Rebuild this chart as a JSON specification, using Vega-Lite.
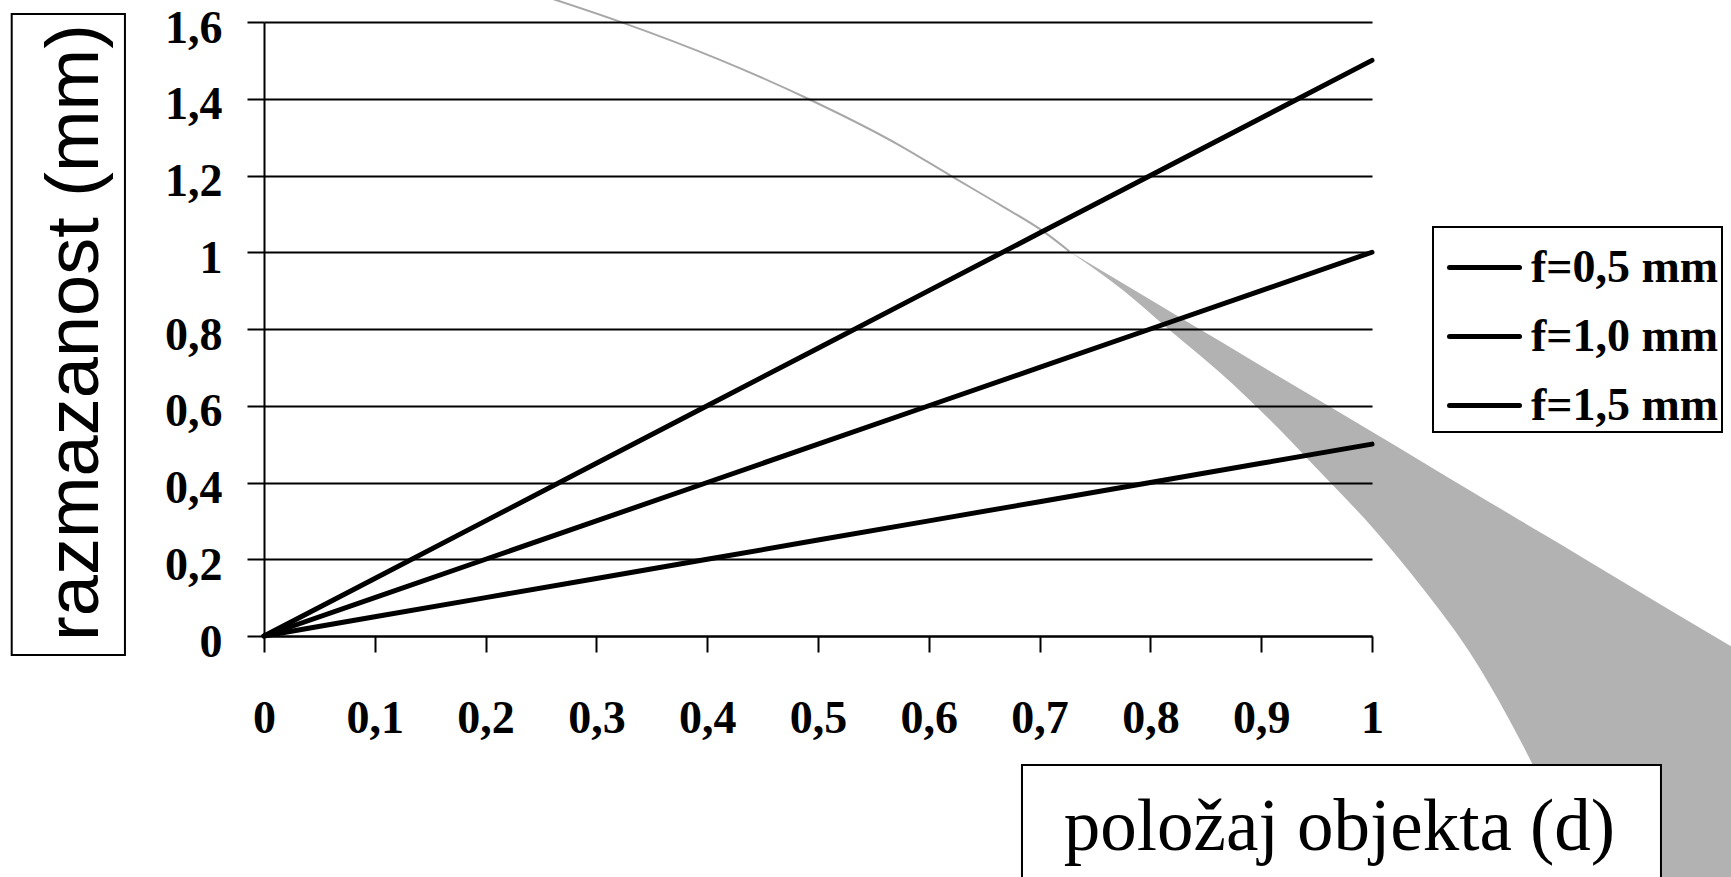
{
  "$schema": "https://vega.github.io/schema/vega-lite/v6.json",
  "autosize": {"type": "none"},
  "width": 1108,
  "height": 614,
  "padding": {"left": 264, "top": 22, "right": 359, "bottom": 241},
  "background": "white",
  "datasets": {
    "linije": [
      {"d": 0, "r": 0, "serija": "f=0,5 mm"}, {"d": 0.1, "r": 0.05, "serija": "f=0,5 mm"}, {"d": 0.2, "r": 0.1, "serija": "f=0,5 mm"}, {"d": 0.3, "r": 0.15, "serija": "f=0,5 mm"}, {"d": 0.4, "r": 0.2, "serija": "f=0,5 mm"}, {"d": 0.5, "r": 0.25, "serija": "f=0,5 mm"}, {"d": 0.6, "r": 0.3, "serija": "f=0,5 mm"}, {"d": 0.7, "r": 0.35, "serija": "f=0,5 mm"}, {"d": 0.8, "r": 0.4, "serija": "f=0,5 mm"}, {"d": 0.9, "r": 0.45, "serija": "f=0,5 mm"}, {"d": 1, "r": 0.5, "serija": "f=0,5 mm"},
      {"d": 0, "r": 0, "serija": "f=1,0 mm"}, {"d": 0.1, "r": 0.1, "serija": "f=1,0 mm"}, {"d": 0.2, "r": 0.2, "serija": "f=1,0 mm"}, {"d": 0.3, "r": 0.3, "serija": "f=1,0 mm"}, {"d": 0.4, "r": 0.4, "serija": "f=1,0 mm"}, {"d": 0.5, "r": 0.5, "serija": "f=1,0 mm"}, {"d": 0.6, "r": 0.6, "serija": "f=1,0 mm"}, {"d": 0.7, "r": 0.7, "serija": "f=1,0 mm"}, {"d": 0.8, "r": 0.8, "serija": "f=1,0 mm"}, {"d": 0.9, "r": 0.9, "serija": "f=1,0 mm"}, {"d": 1, "r": 1.0, "serija": "f=1,0 mm"},
      {"d": 0, "r": 0, "serija": "f=1,5 mm"}, {"d": 0.1, "r": 0.15, "serija": "f=1,5 mm"}, {"d": 0.2, "r": 0.3, "serija": "f=1,5 mm"}, {"d": 0.3, "r": 0.45, "serija": "f=1,5 mm"}, {"d": 0.4, "r": 0.6, "serija": "f=1,5 mm"}, {"d": 0.5, "r": 0.75, "serija": "f=1,5 mm"}, {"d": 0.6, "r": 0.9, "serija": "f=1,5 mm"}, {"d": 0.7, "r": 1.05, "serija": "f=1,5 mm"}, {"d": 0.8, "r": 1.2, "serija": "f=1,5 mm"}, {"d": 0.9, "r": 1.35, "serija": "f=1,5 mm"}, {"d": 1, "r": 1.5, "serija": "f=1,5 mm"}
    ],
    "rub": [
      {"d": 0.249, "r": 1.671}, {"d": 0.321, "r": 1.601}, {"d": 0.411, "r": 1.502}, {"d": 0.491, "r": 1.400},
      {"d": 0.574, "r": 1.278}, {"d": 0.620, "r": 1.199}, {"d": 0.664, "r": 1.124}, {"d": 0.705, "r": 1.051},
      {"d": 0.727, "r": 1.002}
    ],
    "klin": [
      {"d": 0.727, "r": 1.002, "r2": 1.002},
      {"d": 0.777, "r": 0.916, "r2": 0.897},
      {"d": 0.817, "r": 0.847, "r2": 0.798},
      {"d": 0.863, "r": 0.768, "r2": 0.686},
      {"d": 0.908, "r": 0.690, "r2": 0.563},
      {"d": 0.953, "r": 0.613, "r2": 0.428},
      {"d": 1.000, "r": 0.532, "r2": 0.284},
      {"d": 1.047, "r": 0.451, "r2": 0.120},
      {"d": 1.088, "r": 0.380, "r2": -0.042},
      {"d": 1.124, "r": 0.318, "r2": -0.219},
      {"d": 1.156, "r": 0.263, "r2": -0.402},
      {"d": 1.188, "r": 0.208, "r2": -0.628},
      {"d": 1.215, "r": 0.161, "r2": -0.845},
      {"d": 1.386, "r": -0.133, "r2": -1.0}
    ]
  },
  "config": {
    "view": {"stroke": null},
    "axis": {
      "domainColor": "black", "domainWidth": 2,
      "tickColor": "black", "tickWidth": 2,
      "gridColor": "black", "gridWidth": 2, "gridOpacity": 1,
      "labelFont": "Liberation Serif", "labelFontWeight": "bold", "labelFontSize": 46, "labelColor": "black",
      "titleColor": "black",
      "labelFlush": false, "labelOverlap": false, "labelBound": false
    }
  },
  "layer": [
    {
      "data": {"name": "klin"},
      "mark": {"type": "area", "color": "#b2b2b2", "opacity": 1, "interpolate": "monotone"},
      "encoding": {
        "x": {"field": "d", "type": "quantitative", "scale": {"domain": [0, 1], "nice": false, "zero": false}, "title": "položaj objekta (d)"},
        "y": {"field": "r", "type": "quantitative", "scale": {"domain": [0, 1.6], "nice": false, "zero": false}, "title": "razmazanost (mm)"},
        "y2": {"field": "r2"}
      }
    },
    {
      "data": {"name": "rub"},
      "mark": {"type": "line", "color": "#a8a8a8", "strokeWidth": 2, "interpolate": "monotone"},
      "encoding": {
        "x": {"field": "d", "type": "quantitative", "title": "položaj objekta (d)"},
        "y": {"field": "r", "type": "quantitative", "title": "razmazanost (mm)"}
      }
    },
    {
      "data": {"values": [{}]},
      "mark": {"type": "rect", "fill": "white", "stroke": "black", "strokeWidth": 2},
      "encoding": {
        "x": {"datum": 0.6841, "type": "quantitative", "title": "položaj objekta (d)"},
        "x2": {"datum": 1.2608},
        "y": {"datum": -0.3362, "type": "quantitative", "title": "razmazanost (mm)"},
        "y2": {"datum": -0.75}
      }
    },
    {
      "data": {"values": [{}]},
      "mark": {"type": "rect", "fill": "white", "stroke": "black", "strokeWidth": 2},
      "encoding": {
        "x": {"datum": -0.2277, "type": "quantitative", "title": "položaj objekta (d)"},
        "x2": {"datum": -0.1255},
        "y": {"datum": 1.6208, "type": "quantitative", "title": "razmazanost (mm)"},
        "y2": {"datum": -0.0495}
      }
    },
    {
      "data": {"name": "linije"},
      "mark": {"type": "line", "strokeWidth": 5, "strokeCap": "round", "strokeJoin": "round"},
      "encoding": {
        "x": {
          "field": "d", "type": "quantitative", "title": "položaj objekta (d)",
          "axis": {
            "zindex": 1,
            "grid": false,
            "values": [0, 0.1, 0.2, 0.3, 0.4, 0.5, 0.6, 0.7, 0.8, 0.9, 1],
            "tickSize": 16, "labelPadding": 80, "labelBaseline": "alphabetic", "labelAlign": "center",
            "labelExpr": "replace(format(datum.value, '~g'), '.', ',')",
            "titleFont": "Liberation Serif", "titleFontSize": 73, "titleFontWeight": "normal",
            "titleX": 1075, "titleY": 213, "titleAlign": "center", "titleBaseline": "alphabetic", "titleAngle": 0
          }
        },
        "y": {
          "field": "r", "type": "quantitative", "title": "razmazanost (mm)",
          "axis": {
            "zindex": 1,
            "grid": true,
            "values": [0, 0.2, 0.4, 0.6, 0.8, 1, 1.2, 1.4, 1.6],
            "tickSize": 17, "labelPadding": 25, "labelBaseline": "alphabetic", "labelOffset": 20, "labelAlign": "right",
            "labelExpr": "replace(format(datum.value, '~g'), '.', ',')",
            "titleFont": "Liberation Sans", "titleFontSize": 74, "titleFontWeight": "normal",
            "titleAngle": 270, "titleX": -167, "titleY": 310, "titleAlign": "center", "titleBaseline": "alphabetic"
          }
        },
        "color": {
          "field": "serija", "type": "nominal",
          "scale": {"domain": ["f=0,5 mm", "f=1,0 mm", "f=1,5 mm"], "range": ["black", "black", "black"]},
          "legend": {
            "title": null, "orient": "none", "legendX": 1169, "legendY": 205,
            "strokeColor": "black", "fillColor": "white", "padding": 3,
            "symbolType": "stroke", "symbolSize": 4900, "symbolStrokeWidth": 5, "symbolStrokeColor": "black",
            "symbolOffset": 11,
            "labelFont": "Liberation Serif", "labelFontWeight": "bold", "labelFontSize": 46, "labelColor": "black",
            "labelOffset": 9, "rowPadding": 8, "labelLimit": 400,
            "encode": {
              "legend": {"update": {"strokeWidth": {"value": 2}}},
              "symbols": {"update": {"strokeCap": {"value": "round"}}}
            }
          }
        }
      }
    }
  ]
}
